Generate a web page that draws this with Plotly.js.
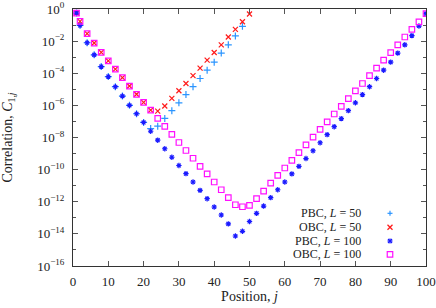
<!DOCTYPE html>
<html>
<head>
<meta charset="utf-8">
<script src="https://cdn.plot.ly/plotly-3.0.1.min.js"></script>
<style>
html,body{margin:0;padding:0;background:#fff;}
#chart{width:436px;height:308px;}
</style>
</head>
<body>
<div id="chart"></div>
<script>
// ---- data ----
const seriesNames = ["PBC, <i>L</i> = 50", "OBC, <i>L</i> = 50", "PBC, <i>L</i> = 100", "OBC, <i>L</i> = 100"];

const jPBC50 = [1,2,4,6,8,10,12,14,16,18,20,22,24,26,28,30,32,34,36,38,40,42,44,46,48];
const cPBC50 = [0.56,9.5e-2,7.9e-3,1.4e-3,2.6e-4,6.2e-5,1.45e-5,3.8e-6,1.0e-6,3.0e-7,8.7e-8,3.6e-8,5.1e-8,1.55e-7,4.7e-7,1.45e-6,4.7e-6,1.45e-5,4.7e-5,1.55e-4,4.9e-4,1.8e-3,5.9e-3,2.1e-2,8.3e-2];

const jOBC50 = [1,2,4,6,8,10,12,14,16,18,20,22,24,26,28,30,32,34,36,38,40,42,44,46,48,50];
const cOBC50 = [0.56,0.17,2.9e-2,7.6e-3,2.0e-3,5.9e-4,1.8e-4,5.4e-5,1.6e-5,4.9e-6,1.55e-6,5.1e-7,4.4e-7,9.1e-7,2.7e-6,8.1e-6,2.3e-5,7.1e-5,2.1e-4,6.5e-4,1.95e-3,5.9e-3,1.8e-2,5.4e-2,0.16,0.49];

const jPBC100 = [1,2,4,6,8,10,12,14,16,18,20,22,24,26,28,30,32,34,36,38,40,42,44,46,48,50,52,54,56,58,60,62,64,66,68,70,72,74,76,78,80,82,84,86,88,90,92,94,96,98,100];
const cPBC100 = [0.56,9.5e-2,7.9e-3,1.4e-3,2.6e-4,6.2e-5,1.45e-5,3.8e-6,1.0e-6,3.0e-7,8.7e-8,2.45e-8,6.8e-9,2.0e-9,5.9e-10,1.8e-10,5.6e-11,1.7e-11,5.1e-12,1.55e-12,4.7e-13,1.5e-13,4.2e-14,7.4e-15,1.45e-14,5.9e-14,1.9e-13,5.4e-13,1.8e-12,5.6e-12,1.7e-11,5.4e-11,1.6e-10,4.9e-10,1.5e-9,4.7e-9,1.5e-8,4.7e-8,1.5e-7,4.7e-7,1.45e-6,4.7e-6,1.45e-5,4.7e-5,1.55e-4,4.9e-4,1.8e-3,5.9e-3,2.2e-2,8.7e-2,0.51];

const jOBC100 = [1,2,4,6,8,10,12,14,16,18,20,22,24,26,28,30,32,34,36,38,40,42,44,46,48,50,52,54,56,58,60,62,64,66,68,70,72,74,76,78,80,82,84,86,88,90,92,94,96,98,100];
const cOBC100 = [0.56,0.17,2.9e-2,7.6e-3,2.0e-3,5.9e-4,1.8e-4,5.4e-5,1.6e-5,4.9e-6,1.55e-6,5.1e-7,1.55e-7,4.9e-8,1.55e-8,4.9e-9,1.55e-9,5.1e-10,1.6e-10,5.4e-11,1.7e-11,5.6e-12,1.8e-12,6.5e-13,4.9e-13,5.9e-13,1.55e-12,4.6e-12,1.45e-11,4.4e-11,1.26e-10,3.8e-10,1.15e-9,3.5e-9,1.05e-8,3.2e-8,9.5e-8,2.9e-7,8.7e-7,2.6e-6,7.9e-6,2.3e-5,7.1e-5,2.1e-4,6.5e-4,1.95e-3,5.9e-3,1.8e-2,5.4e-2,0.16,0.51];

const xTickVals = [0,10,20,30,40,50,60,70,80,90,100];
const yTickVals = [1,1e-2,1e-4,1e-6,1e-8,1e-10,1e-12,1e-14,1e-16];
const yTickText = ["10<sup>0</sup>","10<sup>−2</sup>","10<sup>−4</sup>","10<sup>−6</sup>","10<sup>−8</sup>","10<sup>−10</sup>","10<sup>−12</sup>","10<sup>−14</sup>","10<sup>−16</sup>"];
const yMinorVals = [1e-1,1e-3,1e-5,1e-7,1e-9,1e-11,1e-13,1e-15];

// ---- styles ----
const FONT = "'Liberation Serif', 'DejaVu Serif', serif";
const TXT = "#222";
const colors = ["#2b95ff", "#ff1a1a", "#1a1aff", "#ff10ff"];
const symbols = ["cross-thin", "x-thin", "asterisk-open", "square-open"];
const sizes = [5, 5, 4.5, 5.5];

const xs = [jPBC50, jOBC50, jPBC100, jOBC100];
const ys = [cPBC50, cOBC50, cPBC100, cOBC100];

const traces = xs.map((x, i) => ({
  type: "scatter",
  mode: "markers",
  x: x,
  y: ys[i],
  name: seriesNames[i],
  showlegend: false,
  marker: {
    symbol: symbols[i],
    size: sizes[i],
    color: colors[i],
    line: {color: colors[i], width: 1.2}
  },
  hoverinfo: "x+y"
}));

// legend drawn gnuplot-style: text left, sample right
const legTextX = 0.819;
const legMarkX = 0.898;
const legRowsY = [0.205, 0.1506, 0.0973, 0.0455];
const annotations = seriesNames.map((n, i) => ({
  xref: "paper", yref: "paper", x: legTextX, y: legRowsY[i],
  xanchor: "right", yanchor: "middle", text: n, showarrow: false,
  borderpad: 0,
  font: {family: FONT, size: 12, color: TXT}
}));

function sample(kind, color, xp, yp) {
  const base = {xref: "paper", yref: "paper", xsizemode: "pixel", ysizemode: "pixel",
                xanchor: xp, yanchor: yp, line: {color: color, width: 1.2}};
  const seg = (a, b, c, d) => Object.assign({type: "line", x0: a, y0: b, x1: c, y1: d}, base);
  const r = 2.5;
  if (kind === "cross-thin") return [seg(-r,0,r,0), seg(0,-r,0,r)];
  if (kind === "x-thin") return [seg(-r,-r,r,r), seg(-r,r,r,-r)];
  if (kind === "asterisk-open") return [seg(-r,0,r,0), seg(0,-r,0,r), seg(-2,-2,2,2), seg(-2,2,2,-2)];
  return [Object.assign({type: "rect", x0: -2.75, y0: -2.75, x1: 2.75, y1: 2.75}, base)];
}
let shapes = [];
symbols.forEach((s, i) => { shapes = shapes.concat(sample(s, colors[i], legMarkX, legRowsY[i])); });

const axisCommon = {
  showline: true, linecolor: "#333", linewidth: 1, mirror: "ticks",
  ticks: "inside", ticklen: 5, tickcolor: "#555", tickwidth: 1,
  showgrid: false, zeroline: false,
  tickfont: {family: FONT, size: 13, color: TXT}
};

const layout = {
  width: 436, height: 308,
  margin: {l: 73, r: 10, t: 9, b: 42, pad: 0},
  paper_bgcolor: "#fff", plot_bgcolor: "#fff",
  showlegend: false,
  font: {family: FONT, size: 13, color: TXT},
  xaxis: Object.assign({}, axisCommon, {
    range: [0, 100], tickmode: "array", tickvals: xTickVals,
    ticklabelstandoff: 3,
    title: {text: "Position, <i>j</i>", font: {family: FONT, size: 14, color: TXT}, standoff: 2},
    automargin: false
  }),
  yaxis: Object.assign({}, axisCommon, {
    type: "log", range: [-16, 0], tickmode: "array", tickvals: yTickVals, ticktext: yTickText,
    ticklabelstandoff: 5,
    minor: {tickmode: "array", tickvals: yMinorVals, ticks: "inside", ticklen: 3, tickcolor: "#555", showgrid: false},
    title: {text: "Correlation, <i>C</i><sub>1,<i>j</i></sub>", font: {family: FONT, size: 14, color: TXT}, standoff: 24},
    automargin: false
  }),
  annotations: annotations,
  shapes: shapes
};

Plotly.newPlot("chart", traces, layout, {displayModeBar: false});
</script>
</body>
</html>
